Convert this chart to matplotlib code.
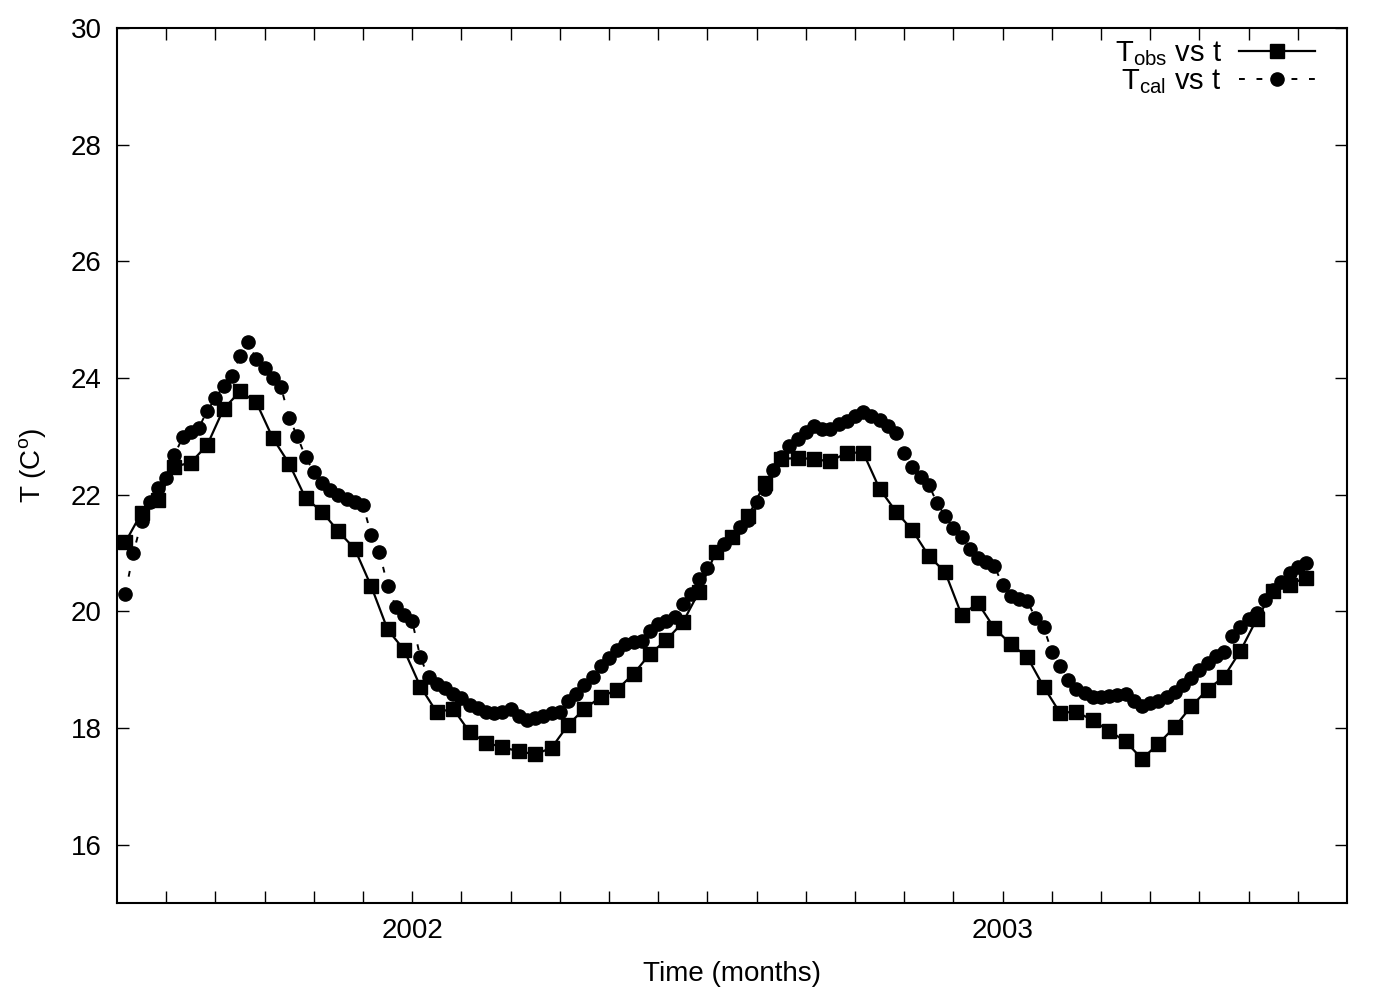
import numpy as np
import matplotlib
matplotlib.use("Agg")
import matplotlib.pyplot as plt
from matplotlib.ticker import FixedLocator, NullFormatter

plt.rcParams["font.family"] = ["Liberation Sans", "DejaVu Sans"]
plt.rcParams["mathtext.fontset"] = "custom"
plt.rcParams["mathtext.rm"] = "Liberation Sans"
plt.rcParams["mathtext.it"] = "Liberation Sans"

# observed temperature, one value per dekad (10 days), from July 2001
t_obs_start = 2001.5
obs_per_year = 36
T_obs = [
    21.18, 21.69, 21.91, 22.48, 22.55, 22.85, 23.47, 23.77, 23.58, 22.97,
    22.53, 21.94, 21.71, 21.37, 21.07, 20.43, 19.69, 19.34, 18.71, 18.27,
    18.33, 17.93, 17.75, 17.67, 17.60, 17.55, 17.66, 18.05, 18.33, 18.53,
    18.66, 18.93, 19.27, 19.51, 19.81, 20.34, 21.01, 21.27, 21.63, 22.20,
    22.61, 22.63, 22.61, 22.57, 22.72, 22.72, 22.10, 21.71, 21.39, 20.95,
    20.67, 19.94, 20.14, 19.71, 19.44, 19.22, 18.71, 18.26, 18.28, 18.13,
    17.95, 17.77, 17.47, 17.73, 18.02, 18.37, 18.66, 18.88, 19.32, 19.87,
    20.35, 20.46, 20.58,
]

# calculated temperature, two values per dekad
T_cal = [
    20.30, 21.00, 21.54, 21.88, 22.11, 22.28, 22.68, 22.98, 23.07, 23.15,
    23.44, 23.65, 23.87, 24.04, 24.37, 24.61, 24.32, 24.17, 24.00, 23.85,
    23.31, 23.00, 22.64, 22.39, 22.20, 22.08, 22.00, 21.92, 21.87, 21.83,
    21.31, 21.02, 20.44, 20.08, 19.94, 19.83,
    19.21, 18.87, 18.76, 18.69, 18.59, 18.51, 18.40, 18.34, 18.28, 18.26,
    18.28, 18.33, 18.20, 18.14, 18.17, 18.20, 18.26, 18.28, 18.46, 18.58,
    18.74, 18.88, 19.07, 19.20, 19.33, 19.44, 19.48, 19.50, 19.66, 19.79,
    19.84, 19.91,
    20.13, 20.30, 20.55, 20.74, 21.01, 21.15, 21.28, 21.45, 21.57, 21.87,
    22.10, 22.43, 22.65, 22.83, 22.95, 23.08, 23.17, 23.12, 23.12, 23.21,
    23.27, 23.34, 23.41, 23.34, 23.28, 23.17, 23.05, 22.72, 22.47, 22.31,
    22.17, 21.86, 21.63, 21.43, 21.27, 21.07, 20.91,
    20.84, 20.77, 20.46, 20.26, 20.22, 20.18, 19.89, 19.73, 19.31, 19.07,
    18.83, 18.67, 18.60, 18.54, 18.54, 18.55, 18.57, 18.58, 18.46, 18.37,
    18.43, 18.47, 18.54, 18.61, 18.74, 18.86, 19.00, 19.12, 19.23, 19.31,
    19.57, 19.74, 19.87, 19.97, 20.20, 20.36, 20.51, 20.66, 20.76, 20.83,
]

year_ticks = [2002, 2003]
year_labels = ["2002", "2003"]
y_ticks = [16, 18, 20, 22, 24, 26, 28, 30]

t_obs = t_obs_start + (np.arange(len(T_obs)) + 0.5) / obs_per_year
t_cal = t_obs_start + (np.arange(len(T_cal)) * 0.5 + 0.5) / obs_per_year

fig = plt.figure(figsize=(13.96, 9.92), dpi=100)
ax = fig.add_axes([0.0838, 0.0897, 0.8811, 0.8821])

ax.plot(t_obs, T_obs, color="black", lw=1.6, marker="s", ms=10,
        label=r"T$_\mathrm{obs}$ vs t")
ax.plot(t_cal, T_cal, color="black", lw=1.4, ls=(0, (3, 6)), marker="o", ms=9.5,
        label=r"T$_\mathrm{cal}$ vs t")

ax.set_xlim(2001.5, 2003 + 7 / 12)
ax.set_ylim(15, 30)

ax.xaxis.set_major_locator(FixedLocator(year_ticks))
ax.set_xticklabels(year_labels)
months = [2001.5 + k / 12 for k in range(1, 25)]
ax.xaxis.set_minor_locator(FixedLocator([m for m in months if m not in year_ticks]))
ax.xaxis.set_minor_formatter(NullFormatter())
ax.set_yticks(y_ticks)

ax.tick_params(which="both", direction="in", top=True, right=True,
               length=8.5, width=1.0, labelsize=20, pad=11)
for s in ax.spines.values():
    s.set_linewidth(1.5)

ax.set_xlabel("Time (months)", fontsize=20, labelpad=12)
ax.set_ylabel(r"T (C$^\mathrm{o}$)", fontsize=20, labelpad=16)

leg = ax.legend(loc="upper right", frameon=False, markerfirst=False,
                fontsize=21, handlelength=2.6, labelspacing=-0.03,
                handletextpad=0.6, borderaxespad=1.1, borderpad=0.0)
leg.set_bbox_to_anchor((1.0, 1.024), transform=ax.transAxes)
for txt in leg.get_texts():
    txt.set_ha("right")

fig.savefig("out.png", dpi=100)
